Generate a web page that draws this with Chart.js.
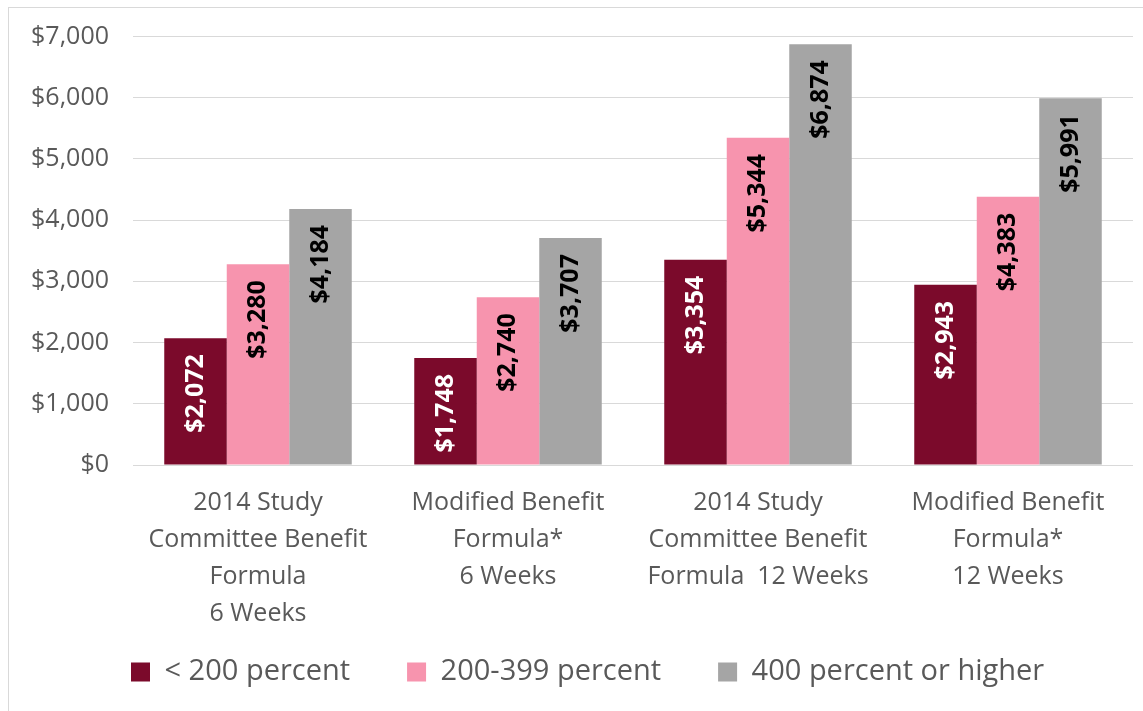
<!DOCTYPE html>
<html>
<head>
<meta charset="utf-8">
<script src="https://cdn.jsdelivr.net/npm/chart.js@4"></script>
<style>
html, body { margin: 0; padding: 0; background: #fff; }
#wrap { position: relative; width: 1143px; height: 711px; overflow: hidden; }
#frame { position: absolute; left: 8px; top: 7px; width: 1200px; height: 800px; border: 1px solid #d9d9d9; }
canvas { position: absolute; left: 0; top: 0; }
</style>
</head>
<body>
<div id="wrap">
  <div id="frame"></div>
  <canvas id="myChart" width="1143" height="711"></canvas>
</div>
<script>
// categories (multi-line labels as in the original)
var categories = [
    ['2014 Study', 'Committee Benefit', 'Formula', '6 Weeks'],
    ['Modified Benefit', 'Formula*', '6 Weeks'],
    ['2014 Study', 'Committee Benefit', 'Formula  12 Weeks'],
    ['Modified Benefit', 'Formula*', '12 Weeks']
];
var seriesNames = ['< 200 percent', '200-399 percent', '400 percent or higher'];
var under200 = [2072, 1748, 3354, 2943];
var from200to399 = [3280, 2740, 5344, 4383];
var over400 = [4184, 3707, 6874, 5991];
var yTicks = [0, 1000, 2000, 3000, 4000, 5000, 6000, 7000];

var colors = ['#7b0a2b', '#f794ae', '#a5a5a5'];
var labelColors = ['#ffffff', '#000000', '#000000'];

function money(v) {
    return '$' + v.toLocaleString('en-US');
}

// values written inside the bars, rotated
var barLabels = {
    id: 'barLabels',
    afterDatasetsDraw: function(chart) {
        var ctx = chart.ctx;
        ctx.save();
        ctx.font = 'bold 25px "Open Sans"';
        ctx.textAlign = 'right';
        ctx.textBaseline = 'middle';
        chart.data.datasets.forEach(function(ds, i) {
            chart.getDatasetMeta(i).data.forEach(function(bar, j) {
                ctx.save();
                ctx.translate(bar.x, bar.y + 16);
                ctx.rotate(-Math.PI / 2);
                ctx.fillStyle = labelColors[i];
                ctx.fillText(money(ds.data[j]), 0, 0);
                ctx.restore();
            });
        });
        ctx.restore();
    }
};

// put the legend where it sits in the original
var legendPlace = {
    id: 'legendPlace',
    afterLayout: function(chart) {
        var pad = chart.options.plugins.legend.labels.padding;
        chart.legend.left = 131 - pad;
        chart.legend.top = 672 - 14.5 - pad;
    }
};

var ctx = document.getElementById('myChart').getContext('2d');
var myChart = new Chart(ctx, {
    type: 'bar',
    data: {
        labels: categories,
        datasets: [
            { label: seriesNames[0], data: under200, backgroundColor: colors[0] },
            { label: seriesNames[1], data: from200to399, backgroundColor: colors[1] },
            { label: seriesNames[2], data: over400, backgroundColor: colors[2] }
        ]
    },
    options: {
        responsive: false,
        animation: false,
        layout: {
            padding: { left: 8, right: 10, top: 30, bottom: 6 }
        },
        datasets: {
            bar: { barPercentage: 1, categoryPercentage: 0.75 }
        },
        plugins: {
            tooltip: { enabled: false },
            legend: {
                position: 'bottom',
                align: 'start',
                maxHeight: 60,
                labels: {
                    boxWidth: 19,
                    boxHeight: 19,
                    padding: 57,
                    color: '#595959',
                    font: { family: '"Open Sans"', size: 29 }
                }
            }
        },
        scales: {
            x: {
                grid: { display: false, drawTicks: false },
                border: { display: false },
                ticks: {
                    color: '#595959',
                    padding: 19,
                    maxRotation: 0,
                    font: { family: '"Open Sans"', size: 25, lineHeight: 1.48 }
                },
                afterFit: function(scale) { scale.height = 180; }
            },
            y: {
                min: 0,
                max: 7000,
                afterBuildTicks: function(scale) {
                    scale.ticks = yTicks.map(function(v) { return { value: v }; });
                },
                grid: { color: '#d9d9d9', drawTicks: false },
                border: { display: false },
                ticks: {
                    color: '#595959',
                    padding: 24,
                    font: { family: '"Open Sans"', size: 25, lineHeight: 1 },
                    callback: function(v) { return money(v); }
                },
                afterFit: function(scale) { scale.width = 125; }
            }
        }
    },
    plugins: [barLabels, legendPlace]
});
</script>
</body>
</html>
